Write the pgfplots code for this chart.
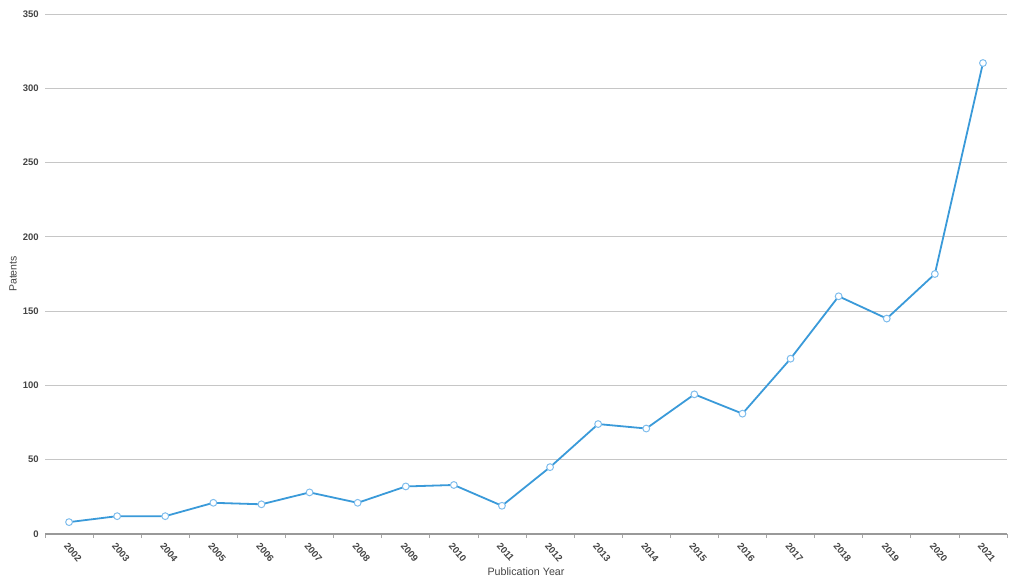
\documentclass[border=0pt]{standalone}
\usepackage{fontspec}
\setmainfont{Liberation Sans}
\usepackage{pgfplots}
\pgfplotsset{compat=1.18}
\definecolor{lineblue}{HTML}{3A9AD9}
\definecolor{markblue}{HTML}{7FBDED}
\definecolor{ticktext}{HTML}{444444}
\begin{document}
\begin{tikzpicture}
\useasboundingbox (0,0) rectangle (1024pt,587pt);
\begin{axis}[
  at={(45pt,53pt)}, anchor=south west,
  scale only axis, width=962pt, height=520pt,
  xmin=-0.5, xmax=19.5, ymin=0, ymax=350,
  enlargelimits=false,
  axis x line*=bottom, axis y line*=left,
  y axis line style={draw=none},
  x axis line style={draw=gray!80, line width=1.6pt, -},
  ytick={0,50,...,350},
  ymajorgrids, grid style={draw=gray!45, line width=0.9pt},
  major y tick style={draw=none},
  xtick={0,...,19},
  xticklabels={2002,2003,2004,2005,2006,2007,2008,2009,2010,2011,2012,2013,2014,2015,2016,2017,2018,2019,2020,2021},
  major x tick style={draw=none},
  minor xtick={-0.5,0.5,...,19.5},
  minor tick length=4pt,
  minor x tick style={draw=gray!70, line width=0.8pt},
  tick align=outside,
  /pgf/number format/assume math mode=true,
  yticklabel style={font=\fontsize{9.5}{10}\selectfont\bfseries, text=ticktext, xshift=1.5pt},
  xticklabel style={font=\fontsize{9.5}{10}\selectfont\bfseries, text=ticktext, rotate=-50, anchor=west, xshift=-1pt, yshift=-6pt},
  xlabel={Publication Year},
  ylabel={Patents},
  xlabel style={at={(axis description cs:0.5,-0.073)}, anchor=center, font=\fontsize{10.7}{12}\selectfont, text=ticktext},
  ylabel style={at={(axis description cs:-0.0333,0.5)}, anchor=center, rotate=0, font=\fontsize{10.5}{12}\selectfont, text=ticktext},
  clip=false,
]
\addplot[color=lineblue, line width=1.8pt, mark=*, mark size=3.4pt,
  mark options={fill=white, draw=markblue, line width=1pt}]
  coordinates {
  (0,8) (1,12) (2,12) (3,21) (4,20) (5,28) (6,21) (7,32) (8,33) (9,19)
  (10,45) (11,74) (12,71) (13,94) (14,81) (15,118) (16,160) (17,145) (18,175) (19,317)
  };
\end{axis}
\end{tikzpicture}
\end{document}
